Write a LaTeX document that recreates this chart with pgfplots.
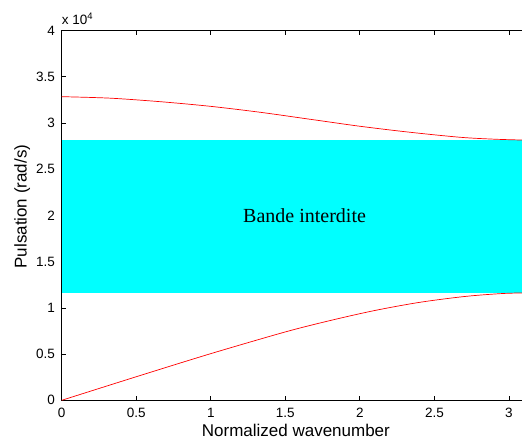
\documentclass[border=0pt]{standalone}
\usepackage{fontspec}
\setmainfont{Liberation Sans}
\newfontfamily\timesfont{Liberation Serif}
\usepackage{pgfplots}
\pgfplotsset{compat=1.18}
\definecolor{mcyan}{RGB}{0,255,255}
\definecolor{mred}{RGB}{255,0,0}
\begin{document}
\begin{tikzpicture}
\begin{axis}[
  name=ax,
  scale only axis,
  width=468.4pt, height=369.6pt,
  xmin=0, xmax=3.14159,
  ymin=0, ymax=40000,
  xtick={0,0.5,1,1.5,2,2.5,3},
  xticklabels={0,0.5,1,1.5,2,2.5,3},
  ytick={0,5000,10000,15000,20000,25000,30000,35000,40000},
  yticklabels={0,0.5,1,1.5,2,2.5,3,3.5,4},
  scaled y ticks=false,
  tick label style={font=\fontsize{13.5}{16}\selectfont},
  yticklabel style={inner sep=0pt, xshift=-6.7pt, anchor=east},
  xticklabel style={inner sep=0pt, yshift=-7.7pt, anchor=north},
  tick align=inside,
  major tick length=4.7pt,
  every tick/.style={black, line width=0.8pt},
  axis line style={line width=1.1pt},
  xlabel={Normalized wavenumber},
  ylabel={Pulsation (rad/s)},
  label style={font=\fontsize{17}{20}\selectfont},
  xlabel style={at={(axis description cs:0.5,0)}, anchor=base, yshift=-36.4pt, inner sep=0pt},
  ylabel style={at={(axis description cs:0,0.524)}, anchor=base, yshift=35pt, inner sep=0pt},
  clip=true,
]
\addplot[draw=none, fill=mcyan] coordinates {(0,11650) (3.14159,11650) (3.14159,28120) (0,28120)} -- cycle;
\addplot[mred, line width=0.7pt, smooth] coordinates {
(0,32860) (0.323,32700) (0.659,32320) (0.995,31820) (1.332,31170) (1.668,30410)
(2.004,29650) (2.341,29000) (2.677,28460) (2.9,28260) (3.08,28170) (3.14159,28150)
};
\addplot[mred, line width=0.7pt, smooth] coordinates {
(0,0) (0.5,2550) (1.0,5050) (1.5,7400) (1.8,8630) (2.1,9720) (2.4,10600) (2.7,11230)
(2.95,11550) (3.14159,11640)
};
\end{axis}
\node[anchor=base west, inner sep=0pt, font=\fontsize{13.5}{16}\selectfont] at ([yshift=5.7pt]ax.north west) {x 10\textsuperscript{4}};
\node[anchor=base west, inner sep=0pt, font=\timesfont\fontsize{20}{24}\selectfont] at ([xshift=181.3pt, yshift=177.6pt]ax.south west) {Bande interdite};
\pgfresetboundingbox
\path (ax.south west) ++(-61.7pt,-41.7pt) rectangle ++(522pt,442pt);
\end{tikzpicture}
\end{document}
